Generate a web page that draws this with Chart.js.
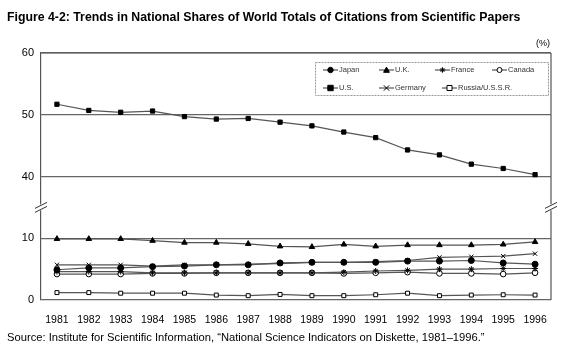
<!DOCTYPE html>
<html><head><meta charset="utf-8">
<script src="https://cdn.jsdelivr.net/npm/chart.js@4/dist/chart.umd.min.js"></script>
<style>html,body{margin:0;padding:0;background:#fff;}#wrap{width:569px;height:356px;position:relative;}</style>
</head><body><div id="wrap"><canvas id="c" width="569" height="356"></canvas></div>
<script>
const titleText = "Figure 4-2: Trends in National Shares of World Totals of Citations from Scientific Papers";
const sourceText = "Source: Institute for Scientific Information, \u201cNational Science Indicators on Diskette, 1981\u20131996.\u201d";
const unitText = "(%)";
const years = ["1981","1982","1983","1984","1985","1986","1987","1988","1989","1990","1991","1992","1993","1994","1995","1996"];
const japan   = [4.9, 5.2, 5.2, 5.4, 5.5, 5.7, 5.7, 6.0, 6.1, 6.1, 6.1, 6.3, 6.3, 6.4, 6.0, 5.8];
const uk      = [9.9, 9.9, 9.9, 9.6, 9.3, 9.3, 9.1, 8.7, 8.6, 9.0, 8.7, 8.9, 8.9, 8.9, 9.0, 9.4];
const france  = [4.6, 4.6, 4.6, 4.4, 4.4, 4.4, 4.4, 4.4, 4.4, 4.5, 4.7, 4.8, 5.0, 5.0, 5.1, 5.1];
const canada  = [4.2, 4.2, 4.2, 4.3, 4.3, 4.4, 4.4, 4.4, 4.4, 4.3, 4.4, 4.5, 4.3, 4.3, 4.2, 4.4];
const us      = [51.7, 50.7, 50.4, 50.6, 49.7, 49.3, 49.4, 48.8, 48.2, 47.2, 46.3, 44.3, 43.5, 42.0, 41.3, 40.3];
const germany = [5.7, 5.7, 5.7, 5.5, 5.7, 5.7, 5.8, 5.9, 6.1, 6.1, 6.2, 6.4, 6.9, 7.0, 7.1, 7.5];
const russia  = [1.2, 1.2, 1.1, 1.1, 1.1, 0.8, 0.7, 0.9, 0.7, 0.7, 0.85, 1.1, 0.7, 0.8, 0.85, 0.8];
const yTicks = [0, 10, 40, 50, 60];

// broken axis: values >= 40 are shifted down by 20 so 40..60 sits right above a 10-unit gap
const GAP = 20;
const toAxis = v => v >= 40 ? v - GAP : v;
const fromAxis = v => v >= 20 ? v + GAP : v;

const series = [
  {label:"Japan", data:japan, style:"circle", fill:"#000", r:3},
  {label:"U.K.", data:uk, style:"triangle", fill:"#000", r:3.2},
  {label:"France", data:france, style:"star", fill:"#000", r:3},
  {label:"Canada", data:canada, style:"circle", fill:"#fff", r:2.8},
  {label:"U.S.", data:us, style:"rect", fill:"#000", r:3},
  {label:"Germany", data:germany, style:"crossRot", fill:"#000", r:3},
  {label:"Russia/U.S.S.R.", data:russia, style:"rect", fill:"#fff", r:2.8}
];

const datasets = series.map(s => ({
  label: s.label,
  data: s.data.map(toAxis),
  borderColor: "#555",
  borderWidth: 1.2,
  pointStyle: s.style,
  pointRadius: s.r,
  pointBackgroundColor: s.fill,
  pointBorderColor: "#000",
  pointBorderWidth: 1,
  tension: 0
}));

function drawMarker(ctx, style, x, y, r, fill){
  ctx.save();
  ctx.fillStyle = fill; ctx.strokeStyle = "#000"; ctx.lineWidth = 1;
  ctx.beginPath();
  if (style === "circle") { ctx.arc(x, y, r, 0, Math.PI*2); ctx.fill(); ctx.stroke(); }
  else if (style === "rect") { ctx.rect(x-r, y-r, 2*r, 2*r); ctx.fill(); ctx.stroke(); }
  else if (style === "triangle") { ctx.moveTo(x, y-r); ctx.lineTo(x+r, y+r*0.8); ctx.lineTo(x-r, y+r*0.8); ctx.closePath(); ctx.fill(); ctx.stroke(); }
  else if (style === "crossRot") { ctx.moveTo(x-r,y-r); ctx.lineTo(x+r,y+r); ctx.moveTo(x+r,y-r); ctx.lineTo(x-r,y+r); ctx.stroke(); }
  else if (style === "star") { ctx.moveTo(x-r,y); ctx.lineTo(x+r,y); ctx.moveTo(x,y-r); ctx.lineTo(x,y+r); ctx.moveTo(x-r*0.7,y-r*0.7); ctx.lineTo(x+r*0.7,y+r*0.7); ctx.moveTo(x+r*0.7,y-r*0.7); ctx.lineTo(x-r*0.7,y+r*0.7); ctx.stroke(); }
  ctx.restore();
}

const decor = {
  id: "decor",
  afterDraw(chart){
    const ctx = chart.ctx, a = chart.chartArea, ys = chart.scales.y;
    ctx.save();
    // title
    ctx.fillStyle = "#000";
    ctx.font = "bold 12.3px 'Liberation Sans', Arial, sans-serif";
    ctx.textBaseline = "middle"; ctx.textAlign = "left";
    ctx.fillText(titleText, 7, 18);
    // unit
    ctx.font = "9px 'Liberation Sans', Arial, sans-serif";
    ctx.textAlign = "right";
    ctx.fillText(unitText, 550, 44);
    // source
    ctx.font = "11.2px 'Liberation Sans', Arial, sans-serif";
    ctx.textAlign = "left";
    ctx.fillText(sourceText, 7, 338);
    // right and top border
    ctx.strokeStyle = "#555"; ctx.lineWidth = 1.2;
    ctx.beginPath();
    ctx.moveTo(a.right, a.top); ctx.lineTo(a.right, a.bottom);
    ctx.moveTo(a.left, a.top); ctx.lineTo(a.right, a.top);
    ctx.stroke();
    // axis breaks
    const yb = ys.getPixelForValue(15);
    [a.left, a.right].forEach(x => {
      ctx.fillStyle = "#fff";
      ctx.fillRect(x-2, yb-3, 4, 6);
      ctx.strokeStyle = "#333"; ctx.lineWidth = 1;
      ctx.beginPath();
      ctx.moveTo(x-6, yb+1); ctx.lineTo(x+6, yb-5);
      ctx.moveTo(x-6, yb+5); ctx.lineTo(x+6, yb-1);
      ctx.stroke();
    });
    // legend
    ctx.strokeStyle = "#999"; ctx.lineWidth = 1;
    ctx.setLineDash([2,1]);
    ctx.strokeRect(315.5, 62.5, 233, 33);
    ctx.setLineDash([]);
    const pos = [[323,70],[379,70],[435,70],[492,70],[323,88],[379,88],[442,88]];
    ctx.font = "7.5px 'Liberation Sans', Arial, sans-serif";
    ctx.textBaseline = "middle"; ctx.textAlign = "left";
    series.forEach((s,i) => {
      const [x,y] = pos[i];
      ctx.strokeStyle = "#333"; ctx.lineWidth = 1;
      ctx.beginPath(); ctx.moveTo(x, y); ctx.lineTo(x+15, y); ctx.stroke();
      drawMarker(ctx, s.style, x+7.5, y, s.r*0.9, s.fill);
      ctx.fillStyle = "#333";
      ctx.fillText(s.label, x+16, y);
    });
    ctx.restore();
  }
};

new Chart(document.getElementById("c"), {
  type: "line",
  data: { labels: years, datasets },
  options: {
    responsive: false, animation: false, devicePixelRatio: 1,
    layout: { padding: { top: 53, right: 18, left: 0, bottom: 0 } },
    plugins: { legend: { display: false }, title: { display: false }, tooltip: { enabled: false } },
    scales: {
      x: {
        type: "category", offset: true,
        grid: { display: false, drawTicks: false },
        border: { display: false },
        ticks: { color: "#000", font: { family: "'Liberation Sans', Arial, sans-serif", size: 10.5 }, padding: 14, maxRotation: 0, autoSkip: false },
        afterFit(s){ s.height = 56; }
      },
      y: {
        min: 0, max: 40,
        afterBuildTicks(s){ s.ticks = yTicks.map(v => ({ value: toAxis(v) })); },
        ticks: { color: "#000", font: { family: "'Liberation Sans', Arial, sans-serif", size: 11 }, padding: 7,
                 callback: v => String(fromAxis(v)) },
        grid: { color: "#666", lineWidth: 1.3, drawTicks: false },
        border: { color: "#555", width: 1.2 },
        afterFit(s){ s.width = 41; }
      }
    }
  },
  plugins: [decor]
});
</script></body></html>
